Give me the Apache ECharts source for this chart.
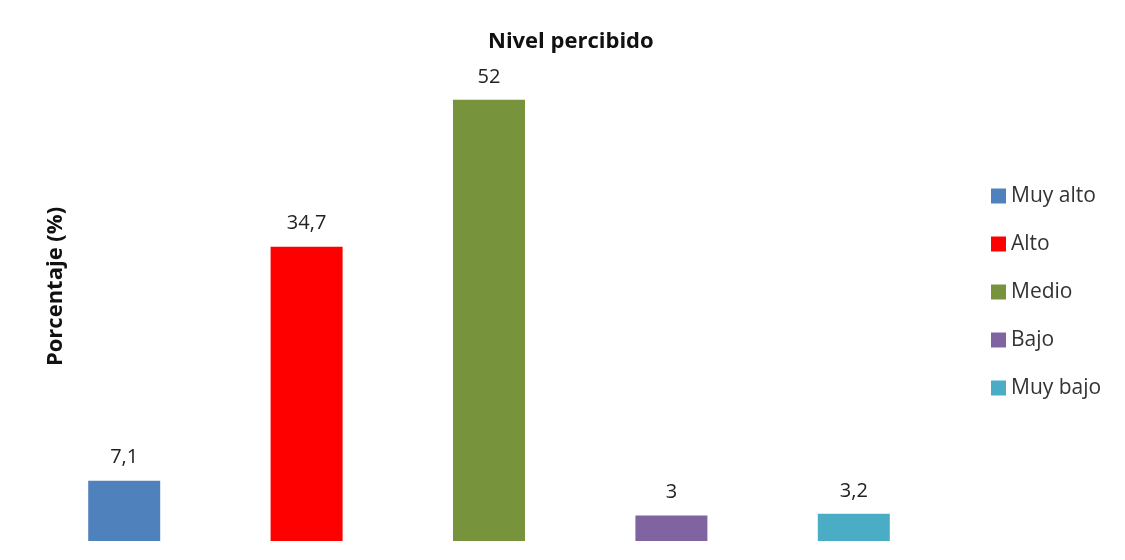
<!DOCTYPE html>
<html>
<head>
<meta charset="utf-8">
<title>Nivel percibido</title>
<script src="https://cdn.jsdelivr.net/npm/echarts@6/dist/echarts.min.js"></script>
<style>
  html, body { margin: 0; padding: 0; background: #ffffff; }
  #chart { width: 1125px; height: 560px; }
</style>
</head>
<body>
<div id="chart"></div>
<script>
// Perceived level: share of respondents (%) per category
const categories = ['Muy alto', 'Alto', 'Medio', 'Bajo', 'Muy bajo'];
const values = [7.1, 34.7, 52, 3, 3.2];
const colors = ['#4F81BD', '#FF0000', '#77933C', '#8064A2', '#4BACC6'];

const FONT = '"Open Sans", "Liberation Sans", sans-serif';

// One series per category so each gets its own legend entry;
// stacking keeps each bar centred in its slot.
const series = categories.map((name, i) => ({
  name: name,
  type: 'bar',
  stack: 'nivel',
  barWidth: 72,
  itemStyle: { color: colors[i] },
  label: {
    show: true,
    position: 'top',
    distance: 13,
    color: '#222',
    fontFamily: FONT,
    fontSize: 20,
    formatter: p => String(p.value).replace('.', ',')
  },
  data: categories.map((_, j) => (j === i ? values[i] : null))
}));

const chart = echarts.init(document.getElementById('chart'), null, { renderer: 'canvas' });
chart.setOption({
  animation: false,
  backgroundColor: '#ffffff',
  title: {
    text: 'Nivel percibido',
    left: 483,
    top: 26,
    textStyle: { fontFamily: FONT, fontSize: 22, fontWeight: 'bold', color: '#111' }
  },
  legend: {
    orient: 'vertical',
    left: 986,
    top: 180,
    itemWidth: 15,
    itemHeight: 15,
    itemGap: 26,
    icon: 'rect',
    textStyle: { fontFamily: FONT, fontSize: 21, color: '#333', lineHeight: 22 },
    data: categories
  },
  grid: { left: 33, width: 912, top: 32, bottom: 19 },
  xAxis: {
    type: 'category',
    data: categories,
    axisLine: { show: false },
    axisTick: { show: false },
    axisLabel: { show: false }
  },
  yAxis: {
    type: 'value',
    min: 0,
    max: 60,
    name: 'Porcentaje (%)',
    nameLocation: 'middle',
    nameGap: -34,
    nameRotate: 90,
    nameTextStyle: { fontFamily: FONT, fontSize: 22, fontWeight: 'bold', color: '#111' },
    axisLine: { show: false },
    axisTick: { show: false },
    axisLabel: { show: false },
    splitLine: { show: false }
  },
  series: series
});
</script>
</body>
</html>
